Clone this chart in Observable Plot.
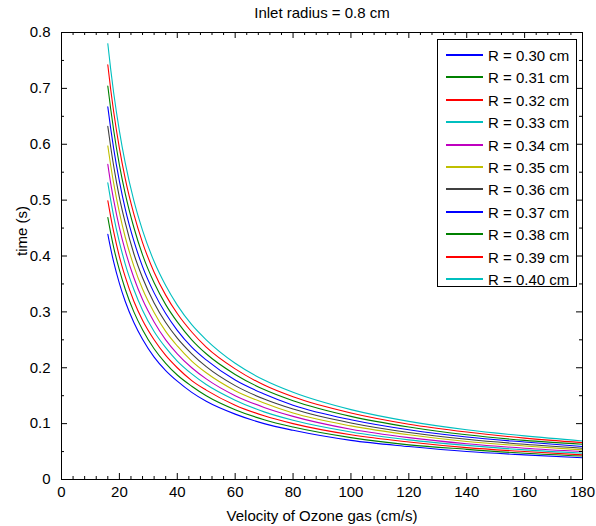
<!DOCTYPE html>
<html>
<head>
<meta charset="utf-8">
<script src="https://cdn.jsdelivr.net/npm/d3@7"></script>
<script src="https://cdn.jsdelivr.net/npm/@observablehq/plot@0.6"></script>
<style>
  html, body { margin: 0; padding: 0; background: white; }
  #wrap { position: relative; width: 596px; height: 526px; font-family: "Liberation Sans", Arial, sans-serif; }
  #legend { position: absolute; left: 437px; top: 39px; width: 140px; height: 248px; box-sizing: border-box;
            border: 1px solid black; background: white; }
  .row { position: absolute; left: 0; display: flex; align-items: center; height: 22px; font-size: 15px; color: black; white-space: nowrap; }
  .sw { margin-left: 8px; margin-right: 5px; width: 37px; height: 2px; }
</style>
</head>
<body>
<div id="wrap"><div id="chart"></div><div id="legend"></div></div>
<script>
// Velocity of ozone gas (cm/s)
const velocity = [16, 17, 18, 20, 22, 25, 28, 32, 36, 40, 45, 50, 60, 70, 80, 100, 120, 140, 160, 180];
// Series labels
const radii = ["0.30", "0.31", "0.32", "0.33", "0.34", "0.35", "0.36", "0.37", "0.38", "0.39", "0.40"];
// time (s) for each R
const t030 = [0.439, 0.413, 0.390, 0.351, 0.319, 0.281, 0.251, 0.219, 0.195, 0.176, 0.156, 0.140, 0.117, 0.100, 0.088, 0.070, 0.059, 0.050, 0.044, 0.039];
const t031 = [0.469, 0.441, 0.416, 0.375, 0.341, 0.300, 0.268, 0.234, 0.208, 0.187, 0.167, 0.150, 0.125, 0.107, 0.094, 0.075, 0.062, 0.054, 0.047, 0.042];
const t032 = [0.499, 0.470, 0.444, 0.399, 0.363, 0.319, 0.285, 0.250, 0.222, 0.200, 0.177, 0.160, 0.133, 0.114, 0.100, 0.080, 0.067, 0.057, 0.050, 0.044];
const t033 = [0.531, 0.500, 0.472, 0.425, 0.386, 0.340, 0.303, 0.265, 0.236, 0.212, 0.189, 0.170, 0.142, 0.121, 0.106, 0.085, 0.071, 0.061, 0.053, 0.047];
const t034 = [0.564, 0.530, 0.501, 0.451, 0.410, 0.361, 0.322, 0.282, 0.250, 0.225, 0.200, 0.180, 0.150, 0.129, 0.113, 0.090, 0.075, 0.064, 0.056, 0.050];
const t035 = [0.597, 0.562, 0.531, 0.478, 0.434, 0.382, 0.341, 0.299, 0.265, 0.239, 0.212, 0.191, 0.159, 0.137, 0.119, 0.096, 0.080, 0.068, 0.060, 0.053];
const t036 = [0.632, 0.595, 0.562, 0.505, 0.460, 0.404, 0.361, 0.316, 0.281, 0.253, 0.225, 0.202, 0.168, 0.144, 0.126, 0.101, 0.084, 0.072, 0.063, 0.056];
const t037 = [0.667, 0.628, 0.593, 0.534, 0.485, 0.427, 0.381, 0.334, 0.297, 0.267, 0.237, 0.214, 0.178, 0.153, 0.133, 0.107, 0.089, 0.076, 0.067, 0.059];
const t038 = [0.704, 0.663, 0.626, 0.563, 0.512, 0.451, 0.402, 0.352, 0.313, 0.282, 0.250, 0.225, 0.188, 0.161, 0.141, 0.113, 0.094, 0.080, 0.070, 0.063];
const t039 = [0.742, 0.698, 0.659, 0.593, 0.539, 0.475, 0.424, 0.371, 0.330, 0.297, 0.264, 0.237, 0.198, 0.169, 0.148, 0.119, 0.099, 0.085, 0.074, 0.066];
const t040 = [0.780, 0.734, 0.693, 0.624, 0.567, 0.499, 0.446, 0.390, 0.347, 0.312, 0.277, 0.250, 0.208, 0.178, 0.156, 0.125, 0.104, 0.089, 0.078, 0.069];
const series = [t030, t031, t032, t033, t034, t035, t036, t037, t038, t039, t040];
const colors = ["#0000ff", "#008000", "#ff0000", "#00bfbf", "#bf00bf", "#bfbf00", "#404040", "#0000ff", "#008000", "#ff0000", "#00bfbf"];
// Ticks
const xTicks = [0, 20, 40, 60, 80, 100, 120, 140, 160, 180];
const yTicks = [0, 0.1, 0.2, 0.3, 0.4, 0.5, 0.6, 0.7, 0.8];
const xMinor = d3.range(0, 181, 4).filter(d => d % 20 !== 0);
const yMinor = [0.05, 0.15, 0.25, 0.35, 0.45, 0.55, 0.65, 0.75];

const rows = [];
series.forEach((ts, i) => ts.forEach((t, j) => rows.push({R: radii[i], v: velocity[j], t})));

const W = 596, H = 526, mT = 32, mL = 61, mR = 14, mB = 47;
const iw = W - mL - mR, ih = H - mT - mB;
const major = 6, minor = 3;

const chart = Plot.plot({
  width: W, height: H,
  marginTop: mT, marginLeft: mL, marginRight: mR, marginBottom: mB,
  style: {fontFamily: "'Liberation Sans', Arial, sans-serif", fontSize: "15px", color: "black", background: "white"},
  x: {domain: [0, 180], label: null},
  y: {domain: [0, 0.8], label: null},
  color: {domain: radii, range: colors},
  marks: [
    Plot.line(rows, {x: "v", y: "t", z: "R", stroke: "R", strokeWidth: 1.1, curve: "monotone-x"}),
    Plot.frame({stroke: "black", strokeWidth: 1}),
    // major ticks inward, all four sides
    Plot.ruleX(xTicks, {x: d => d, insetTop: ih - major, stroke: "black"}),
    Plot.ruleX(xTicks, {x: d => d, insetBottom: ih - major, stroke: "black"}),
    Plot.ruleY(yTicks, {y: d => d, insetRight: iw - major, stroke: "black"}),
    Plot.ruleY(yTicks, {y: d => d, insetLeft: iw - major, stroke: "black"}),
    // minor ticks
    Plot.ruleX(xMinor, {x: d => d, insetTop: ih - minor, stroke: "black"}),
    Plot.ruleX(xMinor, {x: d => d, insetBottom: ih - minor, stroke: "black"}),
    Plot.ruleY(yMinor, {y: d => d, insetRight: iw - minor, stroke: "black"}),
    Plot.ruleY(yMinor, {y: d => d, insetLeft: iw - minor, stroke: "black"}),
    Plot.axisX(xTicks, {tickSize: 0, tickPadding: 7, fontSize: 15, label: null}),
    Plot.axisY(yTicks, {tickSize: 0, tickPadding: 11, fontSize: 15, label: null, tickFormat: d => String(+d.toFixed(1))}),
    Plot.text(["Velocity of Ozone gas (cm/s)"], {text: d => d, frameAnchor: "bottom", dy: 37, lineAnchor: "middle", fontSize: 15}),
    Plot.text(["time (s)"], {text: d => d, frameAnchor: "left", dx: -39, rotate: -90, lineAnchor: "middle", fontSize: 15}),
    Plot.text(["Inlet radius = 0.8 cm"], {text: d => d, frameAnchor: "top", dy: -19, lineAnchor: "middle", fontSize: 15})
  ]
});
document.getElementById("chart").appendChild(chart);

const legend = document.getElementById("legend");
radii.forEach((r, i) => {
  const row = document.createElement("div");
  row.className = "row";
  row.style.top = Math.round(4 + i * 22.4) + "px";
  const sw = document.createElement("div");
  sw.className = "sw";
  sw.style.background = colors[i];
  const label = document.createElement("span");
  label.textContent = `R = ${r} cm`;
  row.appendChild(sw);
  row.appendChild(label);
  legend.appendChild(row);
});
</script>
</body>
</html>
